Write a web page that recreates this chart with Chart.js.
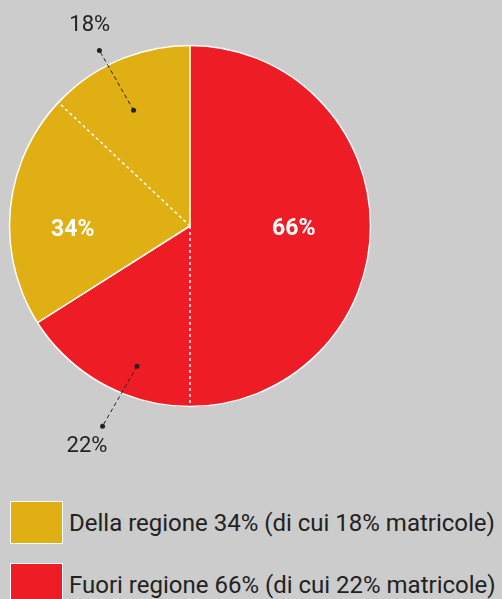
<!DOCTYPE html>
<html>
<head>
<meta charset="utf-8">
<script src="https://cdn.jsdelivr.net/npm/chart.js@4.4.0/dist/chart.umd.min.js"></script>
<style>
  html, body { margin: 0; padding: 0; background: #cccccc; overflow: hidden; }
  #wrap { position: relative; width: 502px; height: 599px; }
  #pie { position: absolute; left: 0; top: 0; }
  .leg-row { position: absolute; left: 10px; height: 43px; display: flex; align-items: center; }
  .leg-box { width: 53px; height: 43px; box-sizing: border-box; border: 1px solid #ffffff; }
  .leg-text { margin-left: 6px; font-family: Roboto, sans-serif; font-size: 24px; color: #222222; white-space: nowrap; }
</style>
</head>
<body>
<div id="wrap">
  <canvas id="pie" width="502" height="470"></canvas>
  <div id="legend"></div>
</div>
<script>
// values
var categories = ['Della regione', 'Fuori regione'];
var totalPct = [34, 66];
var matricolePct = [18, 22];
var groupColors = ['#e0af14', '#ee1d25'];

// the pie itself, clockwise from 12 o'clock (slice sizes as drawn)
var sliceLabels = ['Fuori regione', 'Fuori regione - matricole', 'Della regione', 'Della regione - matricole'];
var sliceValues = [50, 16, 21, 13];
var sliceGroup = [1, 1, 0, 0];
var sliceIsMatricole = [false, true, false, true];

// label placement (style only): degrees relative to the slice, radius as share of pie radius
var groupLabelPos = [{ deg: 268, r: 0.65 }, { deg: 92, r: 0.575 }];
var leaderPos = [
	{ inner: [-2.6, 0.713], outer: [-3.9, 1.094], text: [-3.2, 1.24] },
	{ inner: [-8.1, 0.83], outer: [-5.2, 1.21], text: [-3.8, 1.35] }
];

function rad(d) { return d * Math.PI / 180; }

var piePlugin = {
	id: 'pieDecor',
	afterDatasetsDraw: function(chart) {
		var ctx = chart.ctx;
		var arcs = chart.getDatasetMeta(0).data;
		if (!arcs.length) return;
		var cx = arcs[0].x, cy = arcs[0].y, R = arcs[0].outerRadius;
		ctx.save();

		// slice edges: solid between regions, dashed inside a region
		for (var i = 0; i < arcs.length; i++) {
			var prev = (i + arcs.length - 1) % arcs.length;
			var a = arcs[i].startAngle;
			ctx.beginPath();
			ctx.moveTo(cx, cy);
			ctx.lineTo(cx + R * Math.cos(a), cy + R * Math.sin(a));
			ctx.strokeStyle = '#ffffff';
			ctx.lineWidth = 1.5;
			ctx.setLineDash(sliceGroup[i] === sliceGroup[prev] ? [3, 3] : []);
			ctx.stroke();
		}
		ctx.setLineDash([]);
		ctx.beginPath();
		ctx.arc(cx, cy, R, 0, Math.PI * 2);
		ctx.strokeStyle = '#ffffff';
		ctx.lineWidth = 1.5;
		ctx.stroke();

		// totals inside the pie
		ctx.fillStyle = '#ffffff';
		ctx.font = 'bold 23px Roboto, sans-serif';
		ctx.textAlign = 'center';
		ctx.textBaseline = 'middle';
		for (var g = 0; g < categories.length; g++) {
			var p = groupLabelPos[g];
			var ang = rad(p.deg - 90);
			ctx.fillText(totalPct[g] + '%', cx + p.r * R * Math.cos(ang), cy + p.r * R * Math.sin(ang));
		}

		// matricole with leader lines
		for (var j = 0; j < arcs.length; j++) {
			if (!sliceIsMatricole[j]) continue;
			var grp = sliceGroup[j];
			var mid = (arcs[j].startAngle + arcs[j].endAngle) / 2;
			var lp = leaderPos[grp];
			var pt = function(spec) {
				var an = mid + rad(spec[0]);
				return [cx + spec[1] * R * Math.cos(an), cy + spec[1] * R * Math.sin(an)];
			};
			var pIn = pt(lp.inner), pOut = pt(lp.outer), pTx = pt(lp.text);
			ctx.strokeStyle = '#222222';
			ctx.fillStyle = '#222222';
			ctx.lineWidth = 1;
			ctx.setLineDash([4, 3]);
			ctx.beginPath();
			ctx.moveTo(pIn[0], pIn[1]);
			ctx.lineTo(pOut[0], pOut[1]);
			ctx.stroke();
			ctx.setLineDash([]);
			[pIn, pOut].forEach(function(d) {
				ctx.beginPath();
				ctx.arc(d[0], d[1], 2.5, 0, Math.PI * 2);
				ctx.fill();
			});
			ctx.font = '22px Roboto, sans-serif';
			ctx.fillText(matricolePct[grp] + '%', pTx[0], pTx[1]);
		}
		ctx.restore();
	}
};

var sliceColors = sliceGroup.map(function(g) { return groupColors[g]; });

new Chart(document.getElementById('pie'), {
	type: 'pie',
	data: {
		labels: sliceLabels,
		datasets: [{
			data: sliceValues,
			backgroundColor: sliceColors,
			borderColor: sliceColors,
			borderWidth: 1,
			hoverOffset: 0
		}]
	},
	options: {
		responsive: false,
		animation: false,
		events: [],
		layout: { padding: { top: 45, left: 0, right: 122, bottom: 63 } },
		plugins: {
			legend: { display: false },
			tooltip: { enabled: false }
		}
	},
	plugins: [piePlugin]
});

// legend rows
var legend = document.getElementById('legend');
var rowTops = [501, 563];
for (var k = 0; k < categories.length; k++) {
	var row = document.createElement('div');
	row.className = 'leg-row';
	row.style.top = rowTops[k] + 'px';
	row.innerHTML = '<div class="leg-box" style="background:' + groupColors[k] + '"></div>' +
		'<span class="leg-text">' + categories[k] + ' ' + totalPct[k] + '% (di cui ' + matricolePct[k] + '% matricole)</span>';
	legend.appendChild(row);
}
</script>
</body>
</html>
